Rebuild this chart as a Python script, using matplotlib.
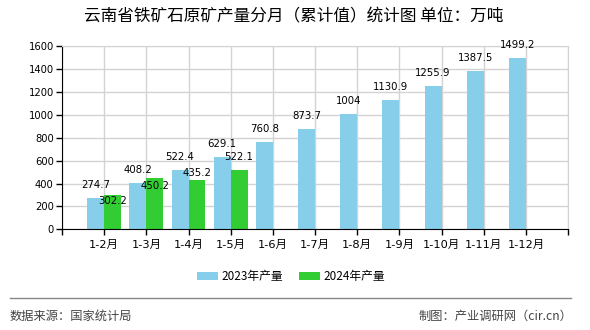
import matplotlib
matplotlib.use("Agg")
import matplotlib.pyplot as plt
from matplotlib.patches import Patch
from matplotlib.lines import Line2D

plt.rcParams['font.family'] = ['DejaVu Sans', 'Noto Sans CJK SC']

title = "云南省铁矿石原矿产量分月（累计值）统计图 单位：万吨"
categories = ["1-2月", "1-3月", "1-4月", "1-5月", "1-6月", "1-7月",
              "1-8月", "1-9月", "1-10月", "1-11月", "1-12月"]
values_2023 = [274.7, 408.2, 522.4, 629.1, 760.8, 873.7,
               1004, 1130.9, 1255.9, 1387.5, 1499.2]
values_2024 = [302.2, 450.2, 435.2, 522.1]
label_2023 = "2023年产量"
label_2024 = "2024年产量"
yticks = [0, 200, 400, 600, 800, 1000, 1200, 1400, 1600]
source_text = "数据来源：国家统计局"
credit_text = "制图：产业调研网（cir.cn）"

c2023 = "#87CEEB"
c2024 = "#32CD32"

W, H = 590, 330
fig = plt.figure(figsize=(W / 100, H / 100), dpi=100)
ax_l, ax_r, ax_t, ax_b = 62, 568, 46.3, 229.3
ax = fig.add_axes([ax_l / W, 1 - ax_b / H, (ax_r - ax_l) / W, (ax_b - ax_t) / H])

n = len(categories)
x = list(range(1, n + 1))
ax.bar([xi - 0.4 for xi in x], values_2023, width=0.4, align='edge',
       color=c2023, zorder=2)
ax.bar([xi for xi in x[:len(values_2024)]], values_2024, width=0.4,
       align='edge', color=c2024, zorder=2)

ymax = yticks[-1]
ax.set_xlim(0, n + 1)
ax.set_ylim(0, ymax)
ax.set_yticks(yticks)
ax.set_yticklabels([str(t) for t in yticks], fontsize=7.2, color='black')
ax.set_xticks([0] + x + [n + 1])
ax.set_xticklabels([""] + categories + [""], fontsize=8.2,
                   family=['DejaVu Sans', 'Noto Sans CJK SC'])
ax.tick_params(axis='both', direction='out', length=4, width=1, color='black')
ax.tick_params(axis='x', pad=3.5)
ax.tick_params(axis='y', pad=2)

ax.grid(True, color='#d3d3d3', linewidth=1, zorder=0)
ax.set_axisbelow(True)
for s in ['top', 'right']:
    ax.spines[s].set_color('#d3d3d3')
ax.spines['left'].set_color('black')
ax.spines['bottom'].set_color('black')

# value labels
px_per_unit = (ax_b - ax_t) / ymax
pt = 0.72  # points per pixel at dpi 100
blue_up = []
for xi, v in zip(x, values_2023):
    up = v * px_per_unit + 13
    blue_up.append(up)
    ax.annotate(f"{v:g}", (xi - 0.2, 0), xytext=(0, up * pt),
                textcoords='offset points', ha='center', va='center',
                fontsize=7.3, zorder=3)
for i, v in enumerate(values_2024):
    normal = v * px_per_unit + 13
    if blue_up[i] - normal < 12:
        up = blue_up[i] - 16.5
    else:
        up = normal
    ax.annotate(f"{v:g}", (x[i] + 0.2, 0), xytext=(0, up * pt),
                textcoords='offset points', ha='center', va='center',
                fontsize=7.3, zorder=3)

fig.text(294 / W, 1 - 17 / H, title, ha='center', va='center', fontsize=12,
         family=['Noto Sans CJK SC', 'DejaVu Sans'])

handles = [Patch(facecolor=c2023), Patch(facecolor=c2024)]
fig.legend(handles, [label_2023, label_2024], loc='center',
           bbox_to_anchor=(291 / W, 1 - 276.5 / H), ncol=2, frameon=False,
           handlelength=1.78, handleheight=0.76, handletextpad=0.3,
           columnspacing=1.35, borderpad=0,
           prop={'family': 'Noto Sans CJK SC', 'size': 8.5})

fig.add_artist(Line2D([10 / W, 571 / W], [1 - 297.7 / H, 1 - 297.7 / H],
                      transform=fig.transFigure, color='#888888', linewidth=1.0))
fig.text(10 / W, 1 - 316 / H, source_text, ha='left', va='center',
         fontsize=8.8, color='#444444',
         family=['Noto Sans CJK SC', 'DejaVu Sans'])
fig.text(572 / W, 1 - 316 / H, credit_text, ha='right', va='center',
         fontsize=8.8, color='#444444',
         family=['Noto Sans CJK SC', 'DejaVu Sans'])

fig.savefig("out.png", dpi=100)
